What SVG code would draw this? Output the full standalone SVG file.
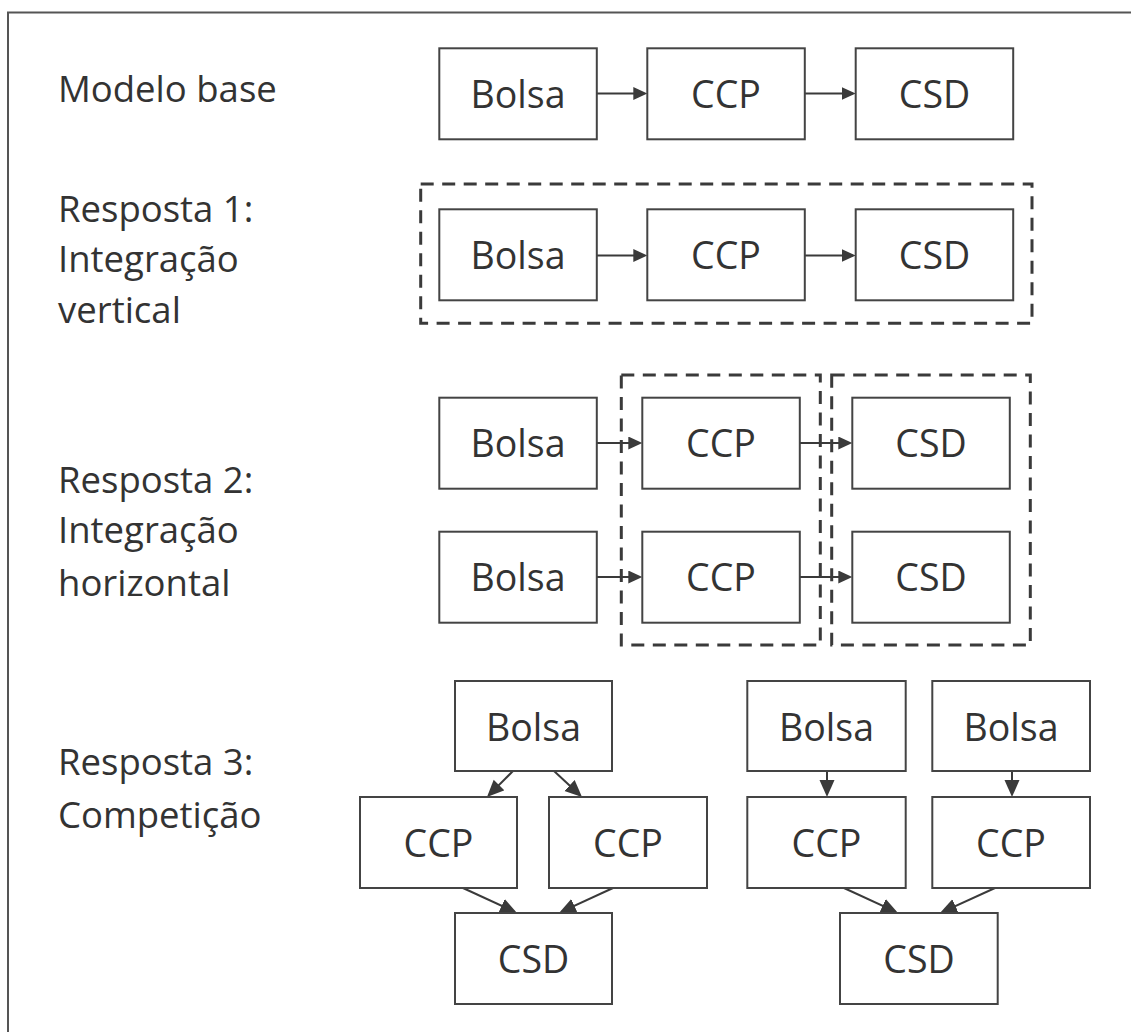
<svg xmlns="http://www.w3.org/2000/svg" width="1131" height="1032" viewBox="0 0 1131 1032">
<style>
.frame{fill:none;stroke:#555;stroke-width:2}
.box{fill:#fff;stroke:#444;stroke-width:2}
.dash{fill:none;stroke:#3a3a3a;stroke-width:3;stroke-dasharray:13 8.5}
.t{font-family:"Open Sans","Noto Sans",sans-serif;font-size:36.5px;fill:#333}
.bt{font-family:"Open Sans","Noto Sans",sans-serif;font-size:37.5px;fill:#333;text-anchor:middle}
.c{fill:none;stroke:#3a3a3a;stroke-width:2}
.a1{marker-end:url(#ah)}
.a2{marker-end:url(#ahb)}
</style>
<defs>
<marker id="ah" markerUnits="userSpaceOnUse" markerWidth="15" markerHeight="14" refX="11" refY="6.5" orient="auto" viewBox="0 0 15 14">
<path d="M0,0 L14,6.5 L0,13 z" fill="#3a3a3a"/>
</marker>
<marker id="ahb" markerUnits="userSpaceOnUse" markerWidth="18" markerHeight="16" refX="14" refY="7.5" orient="auto" viewBox="0 0 18 16">
<path d="M0,0 L17,7.5 L0,15 z" fill="#3a3a3a"/>
</marker>
</defs>
<rect width="1131" height="1032" fill="#fff"/>
<rect class="frame" x="8" y="12.5" width="1140" height="1040"/>

<g id="labels">
<text class="t" x="58" y="102">Modelo base</text>
<text class="t" x="58" y="222">Resposta 1:</text>
<text class="t" x="58" y="272">Integração</text>
<text class="t" x="58" y="323">vertical</text>
<text class="t" x="58" y="493">Resposta 2:</text>
<text class="t" x="58" y="543">Integração</text>
<text class="t" x="58" y="596">horizontal</text>
<text class="t" x="58" y="775">Resposta 3:</text>
<text class="t" x="58" y="828">Competição</text>
</g>

<g id="groups">
<rect id="grp-r1" class="dash" x="420.7" y="184" width="611.3" height="139.3"/>
<rect id="grp-r2-ccp" class="dash" x="621.3" y="375" width="199" height="270"/>
<rect id="grp-r2-csd" class="dash" x="831.7" y="375" width="198.6" height="270"/>
</g>

<g id="connectors">
<line class="c a1" x1="597" y1="93.5" x2="644.3" y2="93.5"/>
<line class="c a1" x1="805" y1="93.5" x2="852.7" y2="93.5"/>
<line class="c a1" x1="597" y1="255.5" x2="644.3" y2="255.5"/>
<line class="c a1" x1="805" y1="255.5" x2="852.7" y2="255.5"/>
<line class="c a1" x1="597" y1="443" x2="639.3" y2="443"/>
<line class="c a1" x1="800" y1="443" x2="849.3" y2="443"/>
<line class="c a1" x1="597" y1="577" x2="639.3" y2="577"/>
<line class="c a1" x1="800" y1="577" x2="849.3" y2="577"/>
<line class="c a2" x1="513" y1="771" x2="489.1" y2="794.9"/>
<line class="c a2" x1="554" y1="771" x2="579.8" y2="795"/>
<line class="c a2" x1="463" y1="888" x2="514.3" y2="911.7"/>
<line class="c a2" x1="613" y1="888" x2="561.7" y2="911.7"/>
<line class="c a2" x1="827" y1="771" x2="827" y2="794"/>
<line class="c a2" x1="1012" y1="771" x2="1012" y2="794"/>
<line class="c a2" x1="844" y1="888" x2="895.3" y2="911.7"/>
<line class="c a2" x1="995" y1="888" x2="942.7" y2="911.8"/>
</g>

<g id="n-r0-bolsa"><rect class="box" x="439.3" y="48.3" width="157.5" height="91"/><text class="bt" x="518" y="107.5">Bolsa</text></g>
<g id="n-r0-ccp"><rect class="box" x="647.3" y="48.3" width="157.5" height="91"/><text class="bt" x="726" y="107.5">CCP</text></g>
<g id="n-r0-csd"><rect class="box" x="855.7" y="48.3" width="157.5" height="91"/><text class="bt" x="934.5" y="107.5">CSD</text></g>

<g id="n-r1-bolsa"><rect class="box" x="439.3" y="209.3" width="157.5" height="91"/><text class="bt" x="518" y="268.5">Bolsa</text></g>
<g id="n-r1-ccp"><rect class="box" x="647.3" y="209.3" width="157.5" height="91"/><text class="bt" x="726" y="268.5">CCP</text></g>
<g id="n-r1-csd"><rect class="box" x="855.7" y="209.3" width="157.5" height="91"/><text class="bt" x="934.5" y="268.5">CSD</text></g>

<g id="n-r2-bolsa1"><rect class="box" x="439.3" y="397.7" width="157.5" height="91"/><text class="bt" x="518" y="456.5">Bolsa</text></g>
<g id="n-r2-ccp1"><rect class="box" x="642.3" y="397.7" width="157.5" height="91"/><text class="bt" x="721" y="456.5">CCP</text></g>
<g id="n-r2-csd1"><rect class="box" x="852.3" y="397.7" width="157.5" height="91"/><text class="bt" x="931" y="456.5">CSD</text></g>
<g id="n-r2-bolsa2"><rect class="box" x="439.3" y="531.7" width="157.5" height="91"/><text class="bt" x="518" y="590.5">Bolsa</text></g>
<g id="n-r2-ccp2"><rect class="box" x="642.3" y="531.7" width="157.5" height="91"/><text class="bt" x="721" y="590.5">CCP</text></g>
<g id="n-r2-csd2"><rect class="box" x="852.3" y="531.7" width="157.5" height="91"/><text class="bt" x="931" y="590.5">CSD</text></g>

<g id="n-r3a-bolsa"><rect class="box" x="455" y="681" width="157" height="90"/><text class="bt" x="533.5" y="740.5">Bolsa</text></g>
<g id="n-r3a-ccp1"><rect class="box" x="360" y="797" width="157" height="91"/><text class="bt" x="438.5" y="856.5">CCP</text></g>
<g id="n-r3a-ccp2"><rect class="box" x="549" y="797" width="158" height="91"/><text class="bt" x="628" y="856.5">CCP</text></g>
<g id="n-r3a-csd"><rect class="box" x="455" y="913" width="157" height="91"/><text class="bt" x="533.5" y="972.5">CSD</text></g>

<g id="n-r3b-bolsa1"><rect class="box" x="747.3" y="681" width="158.4" height="90"/><text class="bt" x="826.5" y="740.5">Bolsa</text></g>
<g id="n-r3b-bolsa2"><rect class="box" x="932.3" y="681" width="157.7" height="90"/><text class="bt" x="1011" y="740.5">Bolsa</text></g>
<g id="n-r3b-ccp1"><rect class="box" x="747.3" y="797" width="158.4" height="91"/><text class="bt" x="826.5" y="856.5">CCP</text></g>
<g id="n-r3b-ccp2"><rect class="box" x="932.3" y="797" width="157.7" height="91"/><text class="bt" x="1011" y="856.5">CCP</text></g>
<g id="n-r3b-csd"><rect class="box" x="840" y="913" width="157.7" height="91"/><text class="bt" x="919" y="972.5">CSD</text></g>
</svg>
